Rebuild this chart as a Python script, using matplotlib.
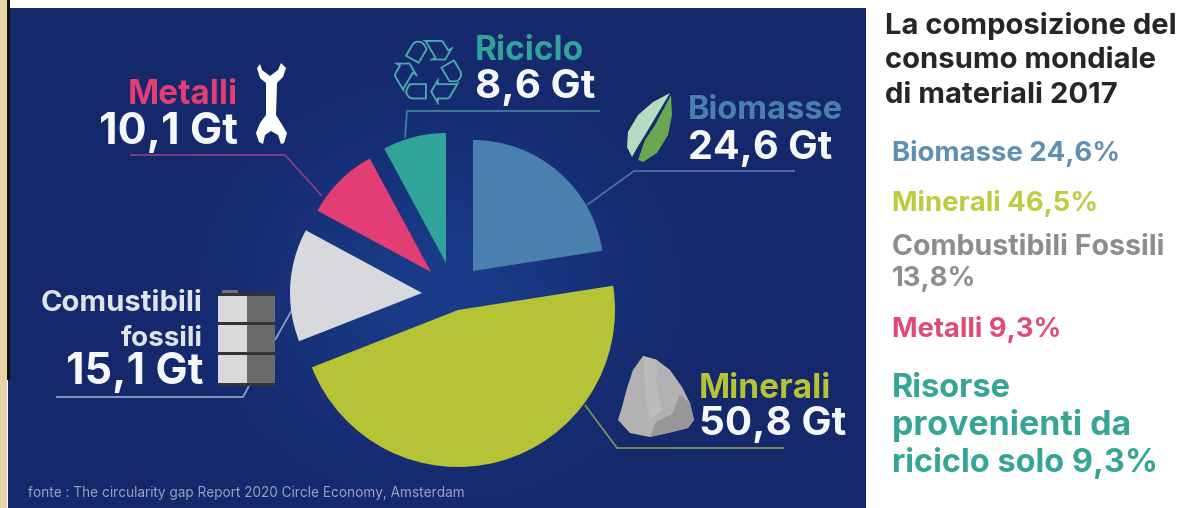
import numpy as np
import matplotlib
matplotlib.use("Agg")
import matplotlib.pyplot as plt
from matplotlib.patches import Polygon, Rectangle, PathPatch
from matplotlib.textpath import TextPath
from matplotlib.font_manager import FontProperties
from matplotlib.transforms import Affine2D

W, H = 1188, 508

# data
names = ["Biomasse", "Minerali", "Combustibili", "Metalli", "Riciclo"]
gigatons = [24.6, 50.8, 15.1, 10.1, 8.6]
colors = ["#4a80ad", "#b7c336", "#d8d9dc", "#e23d74", "#30a49b"]
# each slice is pulled apart by hand in the original
apex_px = [(473, 271), (458, 310), (422, 293), (431, 272), (446, 263)]
radius_px = [131, 157, 132, 129, 130]

plt.rcParams["font.family"] = ["Inter", "DejaVu Sans"]
plt.rcParams["font.weight"] = "bold"

fig = plt.figure(figsize=(W / 100, H / 100), dpi=100, facecolor="white")
ax = fig.add_axes([0, 0, 1, 1])


def y_(y):
    return H - y


def put(x, y, s, size, color, ha="left", weight="bold"):
    ax.text(x, y_(y), s, fontsize=size, color=color, ha=ha, va="baseline", fontweight=weight, zorder=6)


def line(xs, ys, color):
    ax.plot(xs, [y_(v) for v in ys], color=color, lw=1.3, zorder=3, solid_capstyle="butt")


def poly(pts, color, z=5):
    ax.add_patch(Polygon([(x, y_(y)) for x, y in pts], closed=True, fc=color, ec="none", zorder=z, joinstyle="round"))


# background panel with the soft glow behind the pie
gx, gy = np.meshgrid(np.linspace(8, 866, 300), np.linspace(8, 508, 200))
glow = np.exp(-(((gx - 440) / 170) ** 2 + ((gy - 290) / 150) ** 2))
c0 = np.array([0x15, 0x28, 0x6b]) / 255
c1 = np.array([0x1a, 0x3c, 0x8a]) / 255
panel = c0 + (c1 - c0) * glow[..., None]
ax.imshow(panel, extent=(8, 866, y_(508), y_(8)), origin="upper", aspect="auto", zorder=1)

# beige strip and black edge on the left
ax.add_patch(Rectangle((0, 0), 7, H, fc="#e9d5aa", ec="none", zorder=1))
ax.add_patch(Rectangle((7, y_(380)), 2.5, 380, fc="#15110c", ec="none", zorder=2))

# slices, going clockwise from twelve o'clock
total = sum(gigatons)
start = 90.0
for v, col, (px, py), r in zip(gigatons, colors, apex_px, radius_px):
    ax.pie([v, total - v], startangle=start, counterclock=False, radius=r, center=(px, y_(py)),
           colors=[col, "none"], wedgeprops={"linewidth": 0, "zorder": 4}, frame=True)
    start -= v / total * 360

# leader lines
line([600, 407, 405], [111, 111, 138], "#3d7f9a")
line([130, 285, 322], [155, 155, 196], "#8b3a86")
line([795, 634, 587], [171, 171, 205], "#4a70a8")
line([784, 617, 585], [448, 448, 405], "#7f8f52")
line([56, 243, 249], [397, 397, 386], "#8ea0c0")
line([275, 292], [340, 310], "#8ea0c0")

# recycling icon, from a glyph but as a shape
tp = TextPath((0, 0), "\u2672", size=78, prop=FontProperties(family="DejaVu Sans"))
bb = tp.get_extents()
tr = Affine2D().translate(-bb.x0, -bb.y0).scale(68 / bb.width, 65 / bb.height).translate(394, y_(105))
ax.add_patch(PathPatch(tp, transform=tr + ax.transData, fc="#4fa9b0", ec="none", zorder=5))

# wrench
poly([(257, 68), (260, 64), (262, 70), (270, 76), (278, 70), (281, 63), (286, 68), (283, 77), (277, 83),
      (276, 115), (281, 123), (287, 133), (284, 143), (281, 144), (278, 135), (271, 131), (265, 135),
      (263, 144), (259, 142), (256, 133), (260, 123), (266, 115), (266, 83), (260, 78)], "#ffffff")

# leaf
poly([(670, 93), (653, 102), (638, 115), (628, 132), (627, 147), (632, 157), (637, 148), (645, 135)], "#b5dcc0")
poly([(671, 95), (672, 115), (668, 135), (657, 153), (643, 162), (638, 160), (645, 140), (655, 125)], "#6aa84f")

# rock
poly([(643, 356), (657, 360), (670, 370), (682, 387), (690, 403), (694, 420), (688, 428), (668, 433),
      (650, 437), (630, 433), (618, 420), (622, 407), (627, 388), (633, 370)], "#b3b1b2")
poly([(694, 420), (688, 428), (668, 433), (650, 437), (656, 422), (672, 414), (680, 395), (690, 403)], "#989697")
poly([(643, 356), (657, 360), (656, 385), (662, 410), (650, 420), (646, 395)], "#bdbbbc", z=5)

# barrel
ax.add_patch(Rectangle((222, y_(293)), 16, 3, fc="#6f7378", ec="none", zorder=5))
ax.add_patch(Rectangle((218, y_(385)), 29, 92, fc="#d9d8da", ec="none", zorder=5))
ax.add_patch(Rectangle((247, y_(385)), 28, 92, fc="#6a6b6c", ec="none", zorder=5))
for by in [294, 323, 353, 384]:
    ax.add_patch(Rectangle((218, y_(by + 1.5)), 57, 3, fc="#333436", ec="none", zorder=5))

# labels on the panel
W1 = "#f6f7fa"
put(475, 60, "Riciclo", 24, colors[4])
put(475, 98, "8,6 Gt", 29, W1)
put(238, 104, "Metalli", 24, colors[3], ha="right")
put(238, 144, "10,1 Gt", 31, W1, ha="right")
put(688, 119, "Biomasse", 23.5, colors[0])
put(688, 159, "24,6 Gt", 28.5, W1)
put(699, 398, "Minerali", 24, colors[1])
put(699, 435, "50,8 Gt", 29, W1)
put(203, 311, "Comustibili", 21, "#dfe3ea", ha="right")
put(203, 346, "fossili", 20, "#dfe3ea", ha="right")
put(203, 384, "15,1 Gt", 31, W1, ha="right")
put(28, 497, "fonte : The circularity gap Report 2020 Circle Economy, Amsterdam", 9.8, "#98a3c0", weight="normal")

# right hand column
for yy, s in zip([34, 68, 103], ["La composizione del", "consumo mondiale", "di materiali 2017"]):
    put(885, yy, s, 21, "#26262a")
put(892, 161, "Biomasse 24,6%", 19.8, "#5f90b2")
put(892, 211, "Minerali 46,5%", 19.8, "#bfcb3f")
put(892, 255, "Combustibili Fossili", 20.6, "#8d8d8f")
put(892, 286, "13,8%", 19.8, "#8d8d8f")
put(892, 337, "Metalli 9,3%", 19.8, "#df4b75")
put(892, 397, "Risorse", 23.4, "#35a596")
put(892, 435, "provenienti da", 24.4, "#35a596")
put(892, 472, "riciclo solo 9,3%", 23.4, "#35a596")

ax.set_xlim(0, W)
ax.set_ylim(0, H)
ax.set_aspect("auto")
ax.axis("off")
fig.savefig("out.png", dpi=100, facecolor="white")
